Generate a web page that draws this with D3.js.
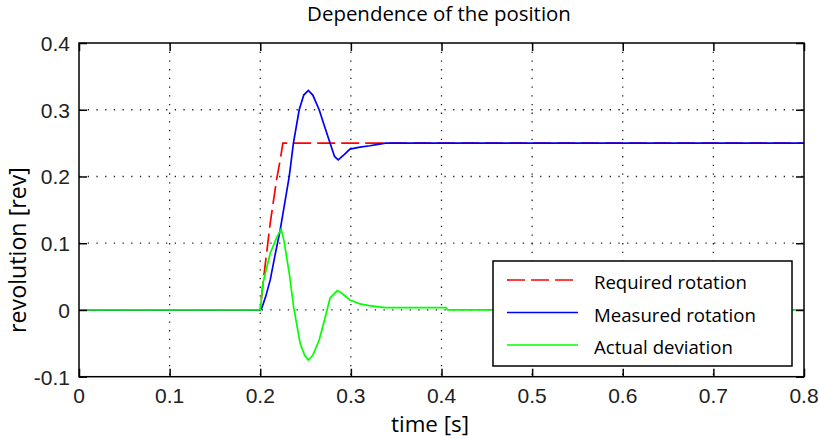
<!DOCTYPE html>
<html>
<head>
<meta charset="utf-8">
<script src="https://cdn.jsdelivr.net/npm/d3@7"></script>
<style>
  body { margin: 0; background: #fff; }
  svg { display: block; }
</style>
</head>
<body>
<svg id="chart"></svg>
<script>
// Dependence of the position - step response

const requiredT = [0, 0.2, 0.203, 0.211, 0.218, 0.222, 0.225, 0.8];
const requiredRev = [0, 0, 0.04, 0.13, 0.195, 0.225, 0.25, 0.25];

const measuredT = [0, 0.2, 0.2016, 0.206, 0.211, 0.216, 0.222, 0.227, 0.232, 0.2366, 0.243, 0.248, 0.253, 0.258, 0.265, 0.271, 0.277, 0.282, 0.286, 0.292, 0.299, 0.31, 0.321, 0.33, 0.338, 0.8];
const measuredRev = [0, 0, 0.0025, 0.02, 0.045, 0.08, 0.12, 0.16, 0.2, 0.25, 0.3, 0.322, 0.329, 0.322, 0.3, 0.275, 0.25, 0.23, 0.225, 0.232, 0.241, 0.244, 0.246, 0.248, 0.25, 0.25];

const deviationT = [0, 0.2, 0.203, 0.211, 0.218, 0.223, 0.226, 0.232, 0.237, 0.244, 0.249, 0.253, 0.258, 0.265, 0.2715, 0.277, 0.285, 0.29, 0.299, 0.31, 0.32, 0.338, 0.405, 0.407, 0.8];
const deviationRev = [0, 0, 0.04, 0.085, 0.108, 0.121, 0.105, 0.055, 0.003, -0.05, -0.068, -0.075, -0.068, -0.045, -0.012, 0.018, 0.029, 0.025, 0.015, 0.009, 0.0065, 0.0035, 0.0035, 0, 0];

const seriesNames = ['Required rotation', 'Measured rotation', 'Actual deviation'];
const seriesColors = ['#ff0000', '#0000ff', '#00ff00'];

const xTicks = [0, 0.1, 0.2, 0.3, 0.4, 0.5, 0.6, 0.7, 0.8];
const xTickLabels = ['0', '0.1', '0.2', '0.3', '0.4', '0.5', '0.6', '0.7', '0.8'];
const yTicks = [-0.1, 0, 0.1, 0.2, 0.3, 0.4];
const yTickLabels = ['-0.1', '0', '0.1', '0.2', '0.3', '0.4'];

const width = 819;
const height = 439;
const plot = { left: 79, right: 804, top: 43, bottom: 376.7 };
const textFont = '"Open Sans", "Noto Sans", sans-serif';
const tickFont = '"Liberation Sans", Arial, sans-serif';

const svg = d3.select('#chart')
  .attr('width', width)
  .attr('height', height);

const x = d3.scaleLinear().domain([0, 0.8]).range([plot.left, plot.right]);
const y = d3.scaleLinear().domain([-0.1, 0.4]).range([plot.bottom, plot.top]);

// scale a text's font size so it spans the wanted width
function fitWidth(sel, target) {
  const len = sel.node().getComputedTextLength();
  const size = parseFloat(sel.style('font-size'));
  sel.style('font-size', (size * target / len) + 'px');
}

// dotted grid
const grid = svg.append('g').attr('class', 'grid');
grid.selectAll('.gx')
  .data(xTicks.slice(1, -1))
  .enter()
  .append('line')
  .attr('x1', d => x(d))
  .attr('x2', d => x(d))
  .attr('y1', plot.top)
  .attr('y2', plot.bottom)
  .style('stroke', '#222')
  .style('stroke-width', 1.3)
  .style('stroke-dasharray', '1.3,7.4');
grid.selectAll('.gy')
  .data(yTicks.slice(1, -1))
  .enter()
  .append('line')
  .attr('x1', plot.left)
  .attr('x2', plot.right)
  .attr('y1', d => y(d))
  .attr('y2', d => y(d))
  .style('stroke', '#222')
  .style('stroke-width', 1.3)
  .style('stroke-dasharray', '1.3,7.4');

// series lines
const series = [
  { t: requiredT, v: requiredRev, dash: '18,6' },
  { t: measuredT, v: measuredRev, dash: null },
  { t: deviationT, v: deviationRev, dash: null }
];

const line = d3.line()
  .x(d => x(d[0]))
  .y(d => y(d[1]));

series.forEach((s, i) => {
  svg.append('path')
    .datum(s.t.map((t, k) => [t, s.v[k]]))
    .attr('d', line)
    .style('fill', 'none')
    .style('stroke', seriesColors[i])
    .style('stroke-width', 1.7)
    .style('stroke-dasharray', s.dash);
});

// axes with inward ticks on all sides
const tickLen = 8;
const axisStyle = g => {
  g.select('.domain').remove();
  g.selectAll('.tick line').style('stroke', '#000').style('stroke-width', 1.5);
};

svg.append('g')
  .attr('transform', `translate(0,${plot.bottom})`)
  .call(d3.axisBottom(x).tickValues(xTicks).tickSize(-tickLen).tickFormat(''))
  .call(axisStyle);
svg.append('g')
  .attr('transform', `translate(0,${plot.top})`)
  .call(d3.axisTop(x).tickValues(xTicks).tickSize(-tickLen).tickFormat(''))
  .call(axisStyle);
svg.append('g')
  .attr('transform', `translate(${plot.left},0)`)
  .call(d3.axisLeft(y).tickValues(yTicks).tickSize(-tickLen).tickFormat(''))
  .call(axisStyle);
svg.append('g')
  .attr('transform', `translate(${plot.right},0)`)
  .call(d3.axisRight(y).tickValues(yTicks).tickSize(-tickLen).tickFormat(''))
  .call(axisStyle);

// frame
svg.append('rect')
  .attr('x', plot.left)
  .attr('y', plot.top)
  .attr('width', plot.right - plot.left)
  .attr('height', plot.bottom - plot.top)
  .style('fill', 'none')
  .style('stroke', '#000')
  .style('stroke-width', 1.5);

// tick labels
svg.selectAll('.xlab')
  .data(xTicks)
  .enter()
  .append('text')
  .attr('x', d => x(d))
  .attr('y', 403)
  .attr('text-anchor', 'middle')
  .style('font-family', tickFont)
  .style('font-size', '21px')
  .style('fill', '#222')
  .text((d, i) => xTickLabels[i]);

svg.selectAll('.ylab')
  .data(yTicks)
  .enter()
  .append('text')
  .attr('x', plot.left - 9)
  .attr('y', d => y(d) + 8)
  .attr('text-anchor', 'end')
  .style('font-family', tickFont)
  .style('font-size', '21px')
  .style('fill', '#222')
  .text((d, i) => yTickLabels[i]);

// title and axis labels
const title = svg.append('text')
  .attr('x', 439)
  .attr('y', 21)
  .attr('text-anchor', 'middle')
  .style('font-family', textFont)
  .style('font-size', '16px')
  .style('fill', '#000')
  .text('Dependence of the position');
fitWidth(title, 264);

const xLabel = svg.append('text')
  .attr('x', 430)
  .attr('y', 432)
  .attr('text-anchor', 'middle')
  .style('font-family', textFont)
  .style('font-size', '16px')
  .style('fill', '#000')
  .text('time [s]');
fitWidth(xLabel, 78);

const yLabel = svg.append('text')
  .attr('transform', 'translate(26,250) rotate(-90)')
  .attr('text-anchor', 'middle')
  .style('font-family', textFont)
  .style('font-size', '16px')
  .style('fill', '#000')
  .text('revolution [rev]');
fitWidth(yLabel, 166);

// legend
const legend = svg.append('g').attr('transform', 'translate(493,261)');
legend.append('rect')
  .attr('width', 299)
  .attr('height', 105)
  .style('fill', '#fff')
  .style('stroke', '#000')
  .style('stroke-width', 1.5);

const legendWidths = [153, 162, 139];
seriesNames.forEach((name, i) => {
  const ly = 19 + i * 32.5;
  legend.append('line')
    .attr('x1', 14)
    .attr('x2', 85)
    .attr('y1', ly)
    .attr('y2', ly)
    .style('stroke', seriesColors[i])
    .style('stroke-width', 1.7)
    .style('stroke-dasharray', series[i].dash);
  const t = legend.append('text')
    .attr('x', 101)
    .attr('y', ly + 9)
    .style('font-family', textFont)
    .style('font-size', '16px')
    .style('fill', '#000')
    .text(name);
  fitWidth(t, legendWidths[i]);
});
</script>
</body>
</html>
